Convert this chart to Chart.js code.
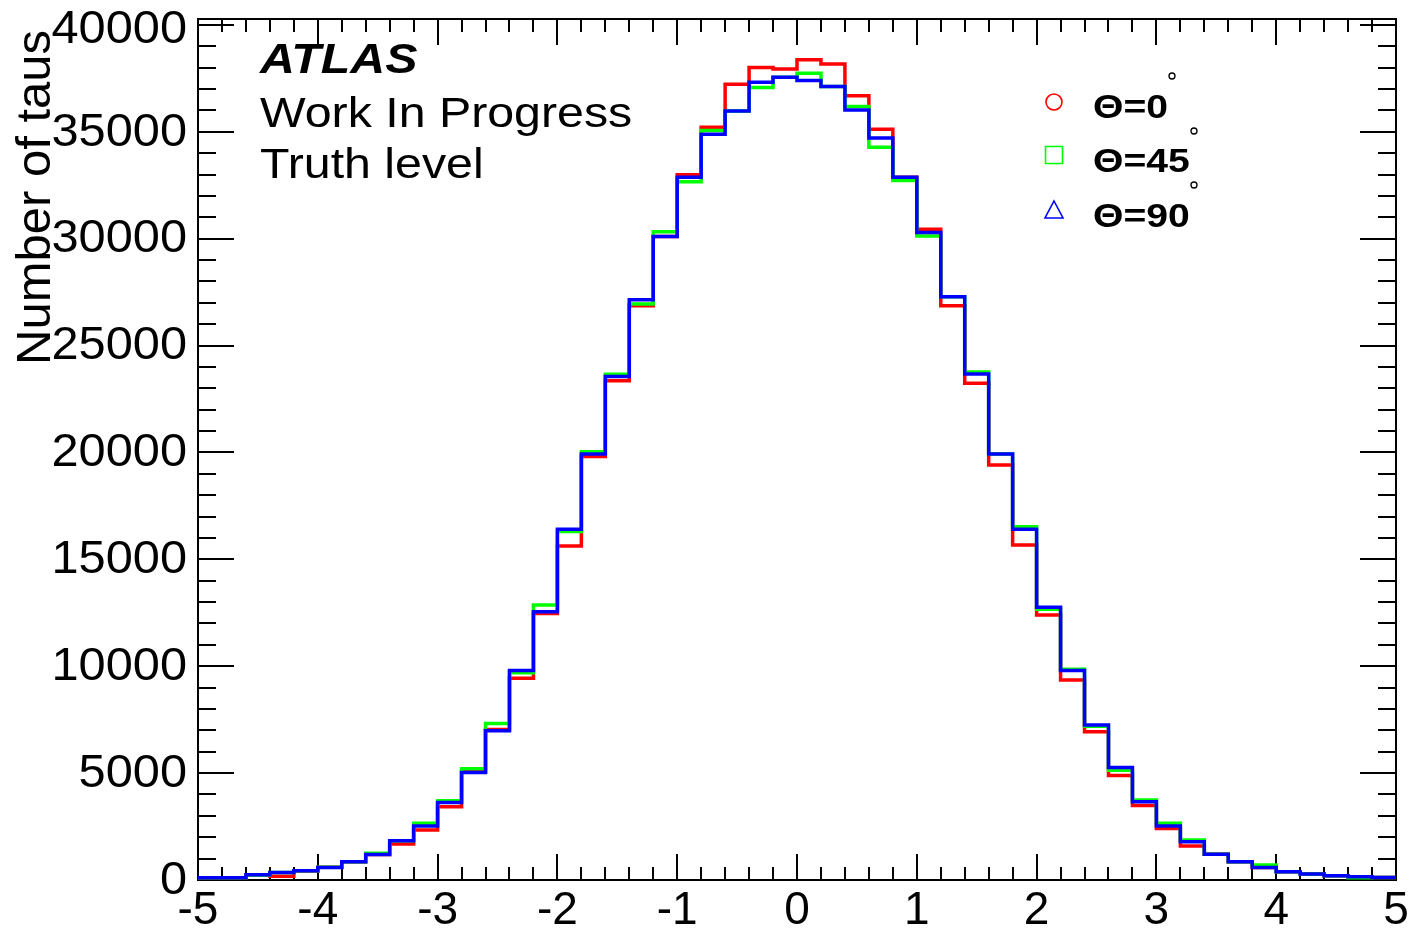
<!DOCTYPE html>
<html>
<head>
<meta charset="utf-8">
<title>Number of taus vs eta</title>
<script src="https://cdn.jsdelivr.net/npm/chart.js@4.4.0/dist/chart.umd.min.js"></script>
<style>
  html, body { margin: 0; padding: 0; background: #fff; }
  #wrap { width: 1410px; height: 930px; }
</style>
</head>
<body>
<div id="wrap"><canvas id="tauChart" width="1410" height="930"></canvas></div>
<script>
// --- histogram binning (50 bins of 0.2 from -5 to 5) ---
const BIN_EDGES = [
  -5.0, -4.8, -4.6, -4.4, -4.2, -4.0, -3.8, -3.6, -3.4, -3.2,
  -3.0, -2.8, -2.6, -2.4, -2.2, -2.0, -1.8, -1.6, -1.4, -1.2,
  -1.0, -0.8, -0.6, -0.4, -0.2, 0.0, 0.2, 0.4, 0.6, 0.8,
  1.0, 1.2, 1.4, 1.6, 1.8, 2.0, 2.2, 2.4, 2.6, 2.8,
  3.0, 3.2, 3.4, 3.6, 3.8, 4.0, 4.2, 4.4, 4.6, 4.8, 5.0
];

// --- bin contents per angle ---
const THETA_0 = [
  100, 100, 230, 180, 420, 600, 850, 1190, 1680, 2340,
  3430, 5070, 7040, 9440, 12470, 15620, 19810, 23360, 26860, 30100,
  32990, 35220, 37230, 38010, 37940, 38370, 38170, 36690, 35120, 32880,
  30440, 26870, 23240, 19420, 15670, 12400, 9360, 6940, 4890, 3490,
  2410, 1590, 1200, 850, 590, 390, 280, 200, 150, 120
];
const THETA_45 = [
  100, 100, 230, 350, 430, 600, 850, 1250, 1840, 2660,
  3710, 5210, 7320, 9700, 12870, 16300, 20040, 23660, 26950, 30330,
  32670, 35060, 35980, 37070, 37550, 37740, 37120, 36190, 34280, 32730,
  30130, 27290, 23770, 19930, 16530, 12670, 9860, 7190, 5130, 3740,
  2660, 1870, 1200, 850, 700, 390, 280, 200, 110, 120
];
const THETA_90 = [
  100, 100, 240, 350, 430, 590, 850, 1190, 1840, 2530,
  3620, 5030, 6980, 9800, 12550, 16410, 19930, 23550, 27140, 30100,
  32880, 34890, 35980, 37320, 37550, 37400, 37120, 36020, 34710, 32880,
  30290, 27290, 23670, 19930, 16410, 12760, 9800, 7250, 5260, 3660,
  2530, 1790, 1200, 850, 590, 390, 280, 200, 150, 120
];

const Y_TICK_VALUES = [0, 5000, 10000, 15000, 20000, 25000, 30000, 35000, 40000];
const SERIES_LABELS = ["\u0398=0", "\u0398=45", "\u0398=90"];
const SERIES_COLORS = ["#ff0000", "#00ff00", "#0000ff"];
const SERIES_MARKERS = ["circle", "rect", "triangle"];
const INFO_LINES = ["ATLAS", "Work In Progress", "Truth level"];
const Y_TITLE = "Number of taus";

const X_MIN = -5, X_MAX = 5;
const Y_MAX = 40280;
const FONT = '"Liberation Sans", Arial, Helvetica, sans-serif';

// turn bin contents into step points (left edge of every bin + closing right edge)
function toSteps(values) {
  const pts = values.map((v, i) => ({ x: BIN_EDGES[i], y: v }));
  pts.push({ x: BIN_EDGES[BIN_EDGES.length - 1], y: values[values.length - 1] });
  return pts;
}

// text drawn slightly wider than the font, like the ROOT canvas output
function wideText(ctx, text, x, y, sx) {
  ctx.save();
  ctx.translate(x, y);
  ctx.scale(sx, 1);
  ctx.fillText(text, 0, 0);
  ctx.restore();
}

// frame with inward ticks on all four sides, y labels and y title
const frameTicks = {
  id: "frameTicks",
  beforeDatasetsDraw(chart) {
    const { ctx, chartArea: a, scales: { x, y } } = chart;
    ctx.save();
    ctx.strokeStyle = "#000";
    ctx.lineWidth = 2;
    ctx.beginPath();
    for (let i = 0; i <= 50; i++) {
      const px = Math.round(x.getPixelForValue(X_MIN + i * 0.2));
      const len = i % 5 === 0 ? 26 : 13;
      ctx.moveTo(px, a.bottom); ctx.lineTo(px, a.bottom - len);
      ctx.moveTo(px, a.top); ctx.lineTo(px, a.top + len);
    }
    for (let v = 0; v <= Y_MAX; v += 1000) {
      const py = Math.round(y.getPixelForValue(v));
      const len = v % 5000 === 0 ? 36 : 18;
      ctx.moveTo(a.left, py); ctx.lineTo(a.left + len, py);
      ctx.moveTo(a.right, py); ctx.lineTo(a.right - len, py);
    }
    ctx.stroke();
    ctx.strokeRect(a.left, a.top, a.right - a.left, a.bottom - a.top);

    // y tick labels, right aligned next to the frame
    ctx.fillStyle = "#000";
    ctx.font = "46px " + FONT;
    ctx.textAlign = "right";
    ctx.textBaseline = "middle";
    Y_TICK_VALUES.forEach((v) => {
      let py = y.getPixelForValue(v);
      if (py < a.top + 8) py = a.top + 10; // top label kept inside the pad
      wideText(ctx, String(v), a.left - 11, py + 1, 1.06);
    });

    // y title, rotated and pushed to the top end
    ctx.save();
    ctx.translate(50, 30);
    ctx.rotate(-Math.PI / 2);
    ctx.textAlign = "right";
    ctx.textBaseline = "alphabetic";
    ctx.font = "49px " + FONT;
    ctx.fillText(Y_TITLE, 0, 0);
    ctx.restore();

    ctx.restore();
  }
};

// ATLAS label block and the marker legend
const labelsAndLegend = {
  id: "labelsAndLegend",
  afterDraw(chart) {
    const { ctx } = chart;
    ctx.save();
    ctx.fillStyle = "#000";
    ctx.textBaseline = "alphabetic";
    ctx.textAlign = "left";

    ctx.font = "italic bold 42px " + FONT;
    wideText(ctx, INFO_LINES[0], 260, 73, 1.15);
    ctx.font = "42px " + FONT;
    wideText(ctx, INFO_LINES[1], 260, 127, 1.15);
    wideText(ctx, INFO_LINES[2], 260, 178, 1.15);

    const rowY = [102, 155, 210];
    const textY = [118, 172, 227];
    const degPos = [[1172, 76], [1194, 131], [1194, 185]];
    chart.data.datasets.forEach((ds, i) => {
      const cx = 1054, cy = rowY[i];
      ctx.strokeStyle = ds.borderColor;
      ctx.lineWidth = 1.6;
      ctx.beginPath();
      if (ds.legendMarker === "circle") {
        ctx.arc(cx, cy, 8, 0, Math.PI * 2);
      } else if (ds.legendMarker === "rect") {
        ctx.rect(cx - 8.5, cy - 8.5, 17, 17);
      } else {
        ctx.moveTo(cx, cy - 9);
        ctx.lineTo(cx + 9, cy + 8);
        ctx.lineTo(cx - 9, cy + 8);
        ctx.closePath();
      }
      ctx.stroke();

      ctx.fillStyle = "#000";
      ctx.font = "bold 34px " + FONT;
      wideText(ctx, ds.label, 1093, textY[i], 1.15);

      // degree sign as a small raised ring
      ctx.strokeStyle = "#000";
      ctx.lineWidth = 1.3;
      ctx.beginPath();
      ctx.arc(degPos[i][0], degPos[i][1], 3, 0, Math.PI * 2);
      ctx.stroke();
    });
    ctx.restore();
  }
};

const datasets = [THETA_0, THETA_45, THETA_90].map((vals, i) => ({
  label: SERIES_LABELS[i],
  data: toSteps(vals),
  borderColor: SERIES_COLORS[i],
  backgroundColor: SERIES_COLORS[i],
  borderWidth: 3.5,
  stepped: "before",
  pointRadius: 0,
  fill: false,
  legendMarker: SERIES_MARKERS[i],
  order: 2 - i
}));

new Chart(document.getElementById("tauChart"), {
  type: "line",
  data: { datasets },
  options: {
    responsive: false,
    animation: false,
    layout: { padding: { top: 19, right: 14, left: 0, bottom: 0 } },
    plugins: { legend: { display: false }, tooltip: { enabled: false } },
    scales: {
      x: {
        type: "linear",
        min: X_MIN,
        max: X_MAX,
        grid: { display: false, drawTicks: false },
        border: { display: false },
        ticks: {
          stepSize: 1,
          padding: 4,
          autoSkip: false,
          color: "#000",
          font: { family: FONT, size: 46 },
          maxRotation: 0,
          callback: (v) => String(v)
        },
        afterFit: (s) => {
          s.height = 50;
          s.paddingLeft = 0;
          s.paddingRight = 0;
        }
      },
      y: {
        type: "linear",
        min: 0,
        max: Y_MAX,
        grid: { display: false, drawTicks: false },
        border: { display: false },
        ticks: { display: false },
        afterFit: (s) => {
          s.width = 198;
          s.paddingTop = 0;
          s.paddingBottom = 0;
        }
      }
    }
  },
  plugins: [frameTicks, labelsAndLegend]
});
</script>
</body>
</html>
